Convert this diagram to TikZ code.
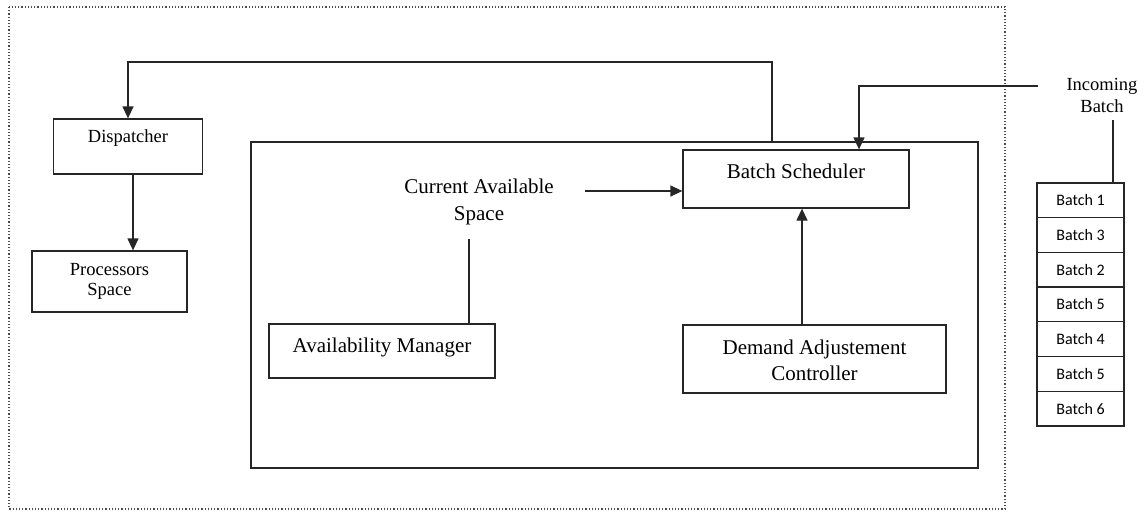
\documentclass[tikz,border=0pt]{standalone}
\usepackage{fontspec}
\setmainfont{Liberation Serif}
\newfontfamily\batchfont{Carlito}
\usetikzlibrary{arrows.meta}

\tikzset{
  line/.style={draw=black!85, line width=1.3pt},
  arr/.style={line, -{Triangle[length=12pt,width=11pt]}},
  box/.style={line, fill=white, inner sep=0pt, minimum width=#1},
  txt/.style={inner sep=0pt, align=center, font=\fontsize{21}{26}\selectfont},
  smalltxt/.style={inner sep=0pt, align=center, font=\fontsize{18.5}{20}\selectfont},
  cell/.style={line, inner sep=0pt, minimum width=87pt, minimum height=34.7pt,
               font=\batchfont\fontsize{16}{18}\selectfont},
  outer/.style={draw=black!70, line width=1.2pt, dotted}
}

\begin{document}
\begin{tikzpicture}[x=1pt, y=-1pt]
  \useasboundingbox (0,0) rectangle (1148,512);

  % outer system boundary and inner scheduling unit
  \draw[outer] (9,7) rectangle (1005,509);
  \node[line, inner sep=0pt, minimum width=727pt, minimum height=326pt] (unit) at (614.5,305) {};

  % left column: dispatcher and processors
  \node[box=149pt, minimum height=55pt] (disp) at (128,146.5) {};
  \node[smalltxt] (disptxt) at (128,138) {Dispatcher};
  \node[box=155pt, minimum height=61pt] (proc) at (109.5,281.5) {};
  \node[smalltxt] (proctxt) at (109.5,281) {Processors\\Space};

  % scheduling unit contents
  \node[box=226pt, minimum height=58pt] (sched) at (796,179) {};
  \node[txt] (schedtxt) at (796,171) {Batch Scheduler};
  \node[txt, font=\fontsize{21}{27}\selectfont] (cas) at (479,201.5) {Current Available\\Space};
  \node[box=226pt, minimum height=54pt] (avail) at (382,351) {};
  \node[txt] (availtxt) at (382,347) {Availability Manager};
  \node[box=263pt, minimum height=68pt] (dem) at (814.5,359) {};
  \node[txt] (demtxt) at (814.5,360) {Demand Adjustement\\Controller};

  % incoming batch queue
  \node[txt, font=\fontsize{18.5}{22}\selectfont] (inc) at (1102,95) {Incoming\\Batch};
  \node[cell] (b1) at (1080.5,200.35) {Batch 1};
  \node[cell] (b2) at (1080.5,235.05) {Batch 3};
  \node[cell] (b3) at (1080.5,269.75) {Batch 2};
  \node[cell] (b4) at (1080.5,304.45) {Batch 5};
  \node[cell] (b5) at (1080.5,339.15) {Batch 4};
  \node[cell] (b6) at (1080.5,373.85) {Batch 5};
  \node[cell] (b7) at (1080.5,408.55) {Batch 6};

  % connector end points
  \coordinate (fbstart) at (772,142);
  \coordinate (fbtop) at (772,62);
  \coordinate (incstart) at (1038,86);
  \coordinate (incbend) at (859,86);
  \coordinate (casright) at (585,191);
  \coordinate (casbottom) at (469,239);
  \coordinate (demup) at (802,325);
  \coordinate (dispdown) at (133,174);
  \coordinate (inclow) at (1113,120);

  % connectors
  \draw[arr] (fbstart) -- (fbtop) -| (disp.north);
  \draw[arr] (dispdown) -- (dispdown |- proc.north);
  \draw[arr] (incstart) -- (incbend) -- (incbend |- sched.north);
  \draw[arr] (casright) -- (casright -| sched.west);
  \draw[line] (casbottom) -- (casbottom |- avail.north);
  \draw[arr] (demup) -- (demup |- sched.south);
  \draw[line] (inclow) -- (inclow |- b1.north);
\end{tikzpicture}
\end{document}
